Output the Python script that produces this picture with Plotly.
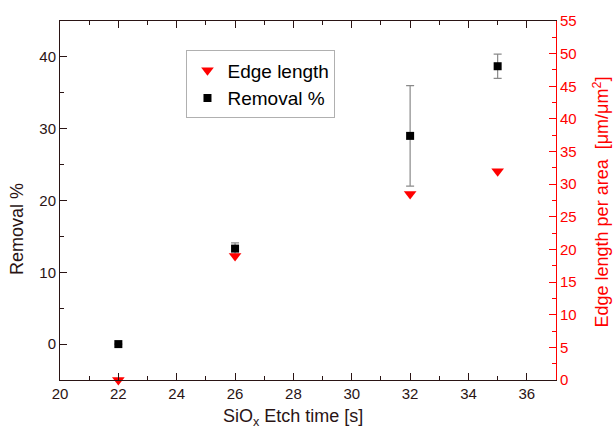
import plotly.graph_objects as go

etch_time = [22, 26, 32, 35]
removal_pct = [0.0, 13.3, 29.0, 38.7]
removal_err_plus = [0.0, 0.8, 7.0, 1.7]
removal_err_minus = [0.0, 0.8, 7.0, 1.7]
edge_length = [0.0, 19.0, 28.5, 32.0]

x_title = "SiO<sub>x</sub> Etch time [s]"
y_title = "Removal %"
y2_title = "Edge length per area  [μm/μm<sup>2</sup>]"

dark = "#2a1414"
red = "#ff0000"
font = "Liberation Sans, Arial, sans-serif"

W, H = 614, 441
ml, mr, mt, mb = 60, 58, 16, 61

fig = go.Figure()
fig.add_trace(go.Scatter(
    x=etch_time, y=edge_length, mode="markers", name="Edge length",
    marker=dict(symbol="triangle-down", color=red, size=11),
    yaxis="y2", cliponaxis=False))
fig.add_trace(go.Scatter(
    x=etch_time, y=removal_pct, mode="markers", name="Removal %",
    marker=dict(symbol="square", color="black", size=8),
    error_y=dict(type="data", array=removal_err_plus, arrayminus=removal_err_minus,
                 color="#8a8a8a", thickness=1.2, width=4),
    cliponaxis=False))

def px_x(p):
    return (p - ml) / (W - ml - mr)

def px_y(p):
    return 1 - (p - mt) / (H - mt - mb)

fig.update_layout(
    width=W, height=H,
    margin=dict(l=ml, r=mr, t=mt, b=mb),
    paper_bgcolor="white", plot_bgcolor="white",
    font=dict(family=font, size=15, color=dark),
    showlegend=True,
    legend=dict(x=0.255, y=0.918, xanchor="left", yanchor="top",
                bordercolor="#b0b0b0", borderwidth=1, bgcolor="white",
                font=dict(size=19, color="black"), itemwidth=30,
                traceorder="normal"),
    xaxis=dict(range=[20, 37], dtick=2, tick0=20, showline=True, linecolor=dark,
               linewidth=1, mirror="ticks", ticks="inside", ticklen=7, tickcolor=dark,
               minor=dict(dtick=1, ticks="inside", ticklen=4, tickcolor=dark),
               showgrid=False, zeroline=False,
               tickfont=dict(size=15, color=dark)),
    yaxis=dict(range=[-5, 45], tickvals=[0, 10, 20, 30, 40], showline=True, linecolor=dark,
               linewidth=1, ticks="inside", ticklen=7, tickcolor=dark,
               minor=dict(tickvals=[-5, 5, 15, 25, 35], ticks="inside", ticklen=4, tickcolor=dark),
               showgrid=False, zeroline=False,
               tickfont=dict(size=15, color=dark)),
    yaxis2=dict(range=[0, 55], dtick=5, overlaying="y", side="right", anchor="x",
                showline=True, linecolor=red, linewidth=1, ticks="inside", ticklen=7,
                tickcolor=red,
                minor=dict(dtick=2.5, ticks="inside", ticklen=4, tickcolor=red),
                showgrid=False, zeroline=False,
                tickfont=dict(size=15, color=red)),
    annotations=[
        dict(text=x_title, xref="paper", yref="paper", x=px_x(293), y=px_y(418),
             xanchor="center", yanchor="middle", showarrow=False,
             font=dict(size=18, color=dark)),
        dict(text=y_title, xref="paper", yref="paper", x=px_x(17), y=px_y(227),
             xanchor="center", yanchor="middle", showarrow=False, textangle=-90,
             font=dict(size=18, color=dark)),
        dict(text=y2_title, xref="paper", yref="paper", x=px_x(601), y=px_y(200),
             xanchor="center", yanchor="middle", showarrow=False, textangle=-90,
             font=dict(size=18, color=red)),
    ],
)

fig.write_html("out.html")
